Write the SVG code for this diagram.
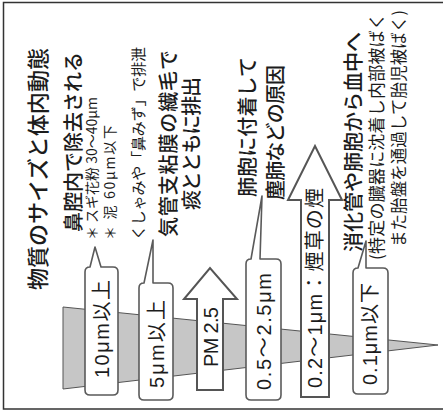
<svg xmlns="http://www.w3.org/2000/svg" width="443" height="417" viewBox="0 0 443 417">
<style>
.jp{font-family:"Noto Sans CJK JP",sans-serif;fill:#1c1c1c;dominant-baseline:central}
.big{font-size:20px;font-weight:500}
.sm{font-size:15px}
.lbl{font-family:"Liberation Sans","Noto Sans CJK JP",sans-serif;font-size:20px;fill:#1c1c1c;dominant-baseline:central}
.box{fill:#fff;stroke:#5a5a5a;stroke-width:1.6;stroke-linejoin:round}
.arr{fill:#fff;stroke:#555;stroke-width:2;stroke-linejoin:miter}
</style>
<rect x="3.5" y="2.5" width="445" height="406.5" fill="#fff" stroke="#333" stroke-width="1.5"/>
<g id="wedge">
<polygon points="63,307 438,345 63,389" fill="#c6c6c6" stroke="#555" stroke-width="1"/>
</g>
<g id="title">
<text class="jp" font-size="22" font-weight="500" transform="translate(36,290) rotate(-90)" textLength="242" lengthAdjust="spacing">物質のサイズと体内動態</text>
</g>
<g id="nose">
<text class="jp big" transform="translate(72.5,232) rotate(-90)" textLength="180" lengthAdjust="spacing">鼻腔内で除去される</text>
<text class="jp" font-size="14" transform="translate(91,240) rotate(-90)" textLength="143" lengthAdjust="spacing">＊ スギ花粉 30～40μm</text>
<text class="jp" font-size="14" transform="translate(108.5,240) rotate(-90)" textLength="115" lengthAdjust="spacing">＊ 泥 60μm以下</text>
<text class="jp sm" transform="translate(137.5,240) rotate(-90)" textLength="193" lengthAdjust="spacing">くしゃみや「鼻みず」で排泄</text>
</g>
<g id="bronchi">
<text class="jp big" transform="translate(167.5,237) rotate(-90)" textLength="187" lengthAdjust="spacing">気管支粘膜の繊毛で</text>
<text class="jp big" transform="translate(190,210) rotate(-90)" textLength="133" lengthAdjust="spacing">痰とともに排出</text>
</g>
<g id="alveoli">
<text class="jp big" transform="translate(246,197) rotate(-90)" textLength="140" lengthAdjust="spacing">肺胞に付着して</text>
<text class="jp big" transform="translate(274,200) rotate(-90)" textLength="135" lengthAdjust="spacing">塵肺などの原因</text>
</g>
<g id="blood">
<text class="jp big" transform="translate(352.5,252) rotate(-90)" textLength="220" lengthAdjust="spacing">消化管や肺胞から血中へ</text>
<text class="jp" font-size="17" transform="translate(375.5,260) rotate(-90)" textLength="247" lengthAdjust="spacing">(特定の臓器に沈着し内部被ばく</text>
<text class="jp" font-size="16.5" transform="translate(397.5,247) rotate(-90)" textLength="237" lengthAdjust="spacing">また胎盤を通過して胎児被ばく)</text>
</g>
<g id="c10um">
<path class="box" d="M90,267 L95,247 L101,267 L113,267 Q118,267 118,272 L118,390 Q118,395 113,395 L90,395 Q85,395 85,390 L85,272 Q85,267 90,267 Z"/>
<text class="lbl" transform="translate(102,378) rotate(-90)" textLength="98" lengthAdjust="spacing">10μm以上</text>
</g>
<g id="c5um">
<path class="box" d="M144,283 L153,240 L153,283 L168,283 Q173,283 173,288 L173,395 Q173,400 168,400 L144,400 Q139,400 139,395 L139,288 Q139,283 144,283 Z"/>
<text class="lbl" transform="translate(157,388) rotate(-90)" textLength="88" lengthAdjust="spacing">5μm以上</text>
</g>
<g id="pm25">
<polygon class="arr" points="197,390 197,299 184,299 210,268 237,299 223,299 223,390"/>
<text class="lbl" font-size="19" transform="translate(210.5,367) rotate(-90)" textLength="60" lengthAdjust="spacing">PM 2.5</text>
</g>
<g id="c05um">
<path class="box" d="M251,259 L262,196 L260,259 L276,259 Q281,259 281,264 L281,395 Q281,400 276,400 L251,400 Q246,400 246,395 L246,264 Q246,259 251,259 Z"/>
<text class="lbl" transform="translate(264,390) rotate(-90)" textLength="117" lengthAdjust="spacing">0.5～2.5μm</text>
</g>
<g id="smoke">
<polygon class="arr" points="301,397 301,200 288,200 315,146 342,200 329,200 329,397"/>
<text class="lbl" transform="translate(315,388) rotate(-90)" textLength="200" lengthAdjust="spacing">0.2～1μm：煙草の煙</text>
</g>
<g id="c01um">
<path class="box" d="M358,268 L366,241 L366,268 L383,268 Q388,268 388,273 L388,389 Q388,394 383,394 L358,394 Q353,394 353,389 L353,273 Q353,268 358,268 Z"/>
<text class="lbl" transform="translate(370,385) rotate(-90)" textLength="102" lengthAdjust="spacing">0.1μm以下</text>
</g>
</svg>
